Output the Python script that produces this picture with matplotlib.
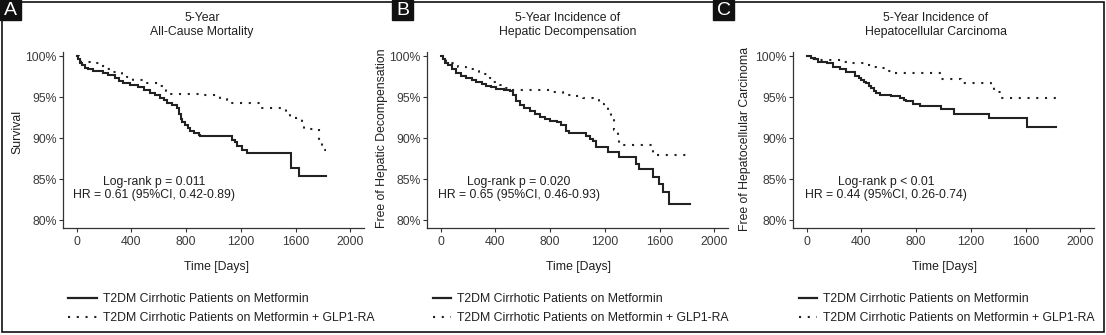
"""Kaplan-Meier curves: metformin vs metformin + GLP1-RA in T2DM cirrhosis."""

import matplotlib
matplotlib.use("Agg")
import matplotlib.pyplot as plt
from matplotlib.lines import Line2D
from matplotlib.patches import Rectangle

plt.rcParams["font.family"] = ["Liberation Sans", "DejaVu Sans"]

# --- Data (day, survival %) ---
END_DAY = 1825

a_met_t = [0, 10, 25, 40, 60, 83, 120, 193, 230, 279, 310, 340, 390, 451, 490,
           537, 575, 610, 640, 659, 700, 733, 750, 760, 770, 790, 810, 831,
           860, 892, 904, 1137, 1160, 1174, 1210, 1248, 1566, 1627]
a_met_v = [100, 99.6, 99.2, 98.9, 98.6, 98.4, 98.2, 98.0, 97.7, 97.3, 97.0,
           96.7, 96.5, 96.2, 95.9, 95.5, 95.2, 94.9, 94.6, 94.3, 94.0, 93.7,
           93.0, 92.3, 92.0, 91.6, 91.2, 90.9, 90.6, 90.4, 90.2, 89.8, 89.5,
           89.0, 88.5, 88.2, 86.4, 85.4]
a_glp_t = [0, 15, 35, 100, 160, 220, 265, 300, 329, 370, 413, 512, 600, 650,
           680, 900, 1050, 1100, 1340, 1530, 1560, 1650, 1665, 1770, 1790]
a_glp_v = [100, 99.6, 99.3, 99.1, 98.8, 98.4, 98.1, 97.9, 97.7, 97.4, 97.1,
           96.7, 96.3, 95.8, 95.4, 95.2, 94.8, 94.3, 93.7, 93.0, 92.4, 91.9,
           91.1, 89.8, 88.6]

b_met_t = [0, 15, 35, 53, 80, 115, 150, 188, 230, 261, 300, 334, 370, 407, 460,
           504, 530, 552, 577, 610, 650, 690, 723, 760, 796, 850, 881, 917, 941,
           1063, 1090, 1112, 1136, 1221, 1306, 1428, 1453, 1550, 1599, 1623,
           1672]
b_met_v = [100, 99.6, 99.2, 98.9, 98.4, 97.9, 97.6, 97.3, 97.1, 96.9, 96.6,
           96.3, 96.2, 96.0, 95.9, 95.8, 95.3, 94.5, 94.0, 93.7, 93.3, 93.0,
           92.6, 92.3, 92.1, 92.0, 91.6, 90.9, 90.6, 90.2, 89.9, 89.6, 88.9,
           88.3, 87.7, 86.9, 86.2, 85.2, 84.4, 83.4, 82.0]
b_glp_t = [0, 20, 42, 80, 127, 188, 236, 280, 309, 358, 382, 430, 455, 480,
           516, 800, 893, 966, 1039, 1112, 1160, 1197, 1221, 1246, 1270, 1294,
           1306, 1550]
b_glp_v = [100, 99.7, 99.4, 99.1, 98.7, 98.4, 98.2, 98.0, 97.8, 97.3, 96.8,
           96.5, 96.3, 96.1, 95.9, 95.6, 95.3, 95.1, 94.9, 94.6, 94.2, 93.9,
           93.3, 92.2, 91.0, 89.8, 89.1, 88.0]

c_met_t = [0, 30, 60, 85, 145, 194, 243, 291, 351, 380, 400, 420, 436, 455,
           473, 490, 509, 533, 618, 679, 710, 727, 776, 830, 982, 1079, 1334,
           1612]
c_met_v = [100, 99.8, 99.6, 99.3, 99.1, 98.7, 98.4, 98.1, 97.6, 97.3, 97.1,
           96.9, 96.7, 96.4, 96.1, 95.8, 95.5, 95.3, 95.1, 94.9, 94.7, 94.5,
           94.1, 93.9, 93.5, 93.0, 92.4, 91.3]
c_glp_t = [0, 40, 73, 267, 327, 376, 424, 485, 533, 594, 620, 982, 1130, 1345,
           1370, 1418]
c_glp_v = [100, 99.7, 99.5, 99.3, 99.2, 99.1, 98.9, 98.7, 98.5, 98.2, 97.9,
           97.2, 96.7, 96.2, 95.6, 94.9]

titles = ["5-Year\nAll-Cause Mortality",
          "5-Year Incidence of\nHepatic Decompensation",
          "5-Year Incidence of\nHepatocellular Carcinoma"]
ylabels = ["Survival", "Free of Hepatic Decompensation",
           "Free of Hepatocellular Carcinoma"]
pvals = ["Log-rank p = 0.011", "Log-rank p = 0.020", "Log-rank p < 0.01"]
hrs = ["HR = 0.61 (95%CI, 0.42-0.89)", "HR = 0.65 (95%CI, 0.46-0.93)",
       "HR = 0.44 (95%CI, 0.26-0.74)"]
panel_letters = ["A", "B", "C"]
series_labels = ["T2DM Cirrhotic Patients on Metformin",
                 "T2DM Cirrhotic Patients on Metformin + GLP1-RA"]
xticks = [0, 400, 800, 1200, 1600, 2000]
yticks = [80, 85, 90, 95, 100]

curves = [(a_met_t, a_met_v, a_glp_t, a_glp_v),
          (b_met_t, b_met_v, b_glp_t, b_glp_v),
          (c_met_t, c_met_v, c_glp_t, c_glp_v)]

# --- Layout (pixel positions in a 1106x335 canvas) ---
W, H = 1106, 335
FS = 8.8
INK = "#222222"
AX_COL = "#333333"
TXT = "#1f1f1f"

ax_left = [63, 427, 793]
ax_w, ax_top, ax_bot = 301, 52, 227.5
title_x = [202, 568, 936]
xlabel_x = [217, 578, 944]
ylabel_x = [17, 382, 745]
ylabel_y = [132, 138, 139]
letter_x = [0, 392, 713]
legend_x = [68, 433, 799]
handle_len = [2.4, 1.5, 1.5]
annot_x = [567, 569, 582]


def kmstep(ax, t, v, **kw):
    ax.step(list(t) + [END_DAY], list(v) + [v[-1]], where="post", **kw)


fig = plt.figure(figsize=(W / 100, H / 100), dpi=100)

for i in range(3):
    ax = fig.add_axes([ax_left[i] / W, 1 - ax_bot / H, ax_w / W,
                       (ax_bot - ax_top) / H])
    mt, mv, gt, gv = curves[i]
    kmstep(ax, mt, mv, color=INK, lw=1.5, solid_joinstyle="miter")
    kmstep(ax, gt, gv, color=INK, lw=1.5, linestyle=(0, (1, 3.2)))

    ax.set_xlim(-100, 2100)
    ax.set_ylim(79.1, 100.5)
    ax.set_xticks(xticks)
    ax.set_yticks(yticks)
    ax.set_yticklabels([f"{y}%" for y in yticks])
    for s in ["top", "right"]:
        ax.spines[s].set_visible(False)
    for s in ["left", "bottom"]:
        ax.spines[s].set_color(AX_COL)
        ax.spines[s].set_linewidth(0.9)
    ax.tick_params(axis="both", colors=AX_COL, labelcolor="#3a3a3a",
                   labelsize=FS, length=3, width=0.8)
    ax.tick_params(axis="x", pad=3)
    ax.tick_params(axis="y", pad=1.5)

    ax.text(annot_x[i], 84.7, pvals[i], ha="center", va="center",
            fontsize=FS, color=TXT)
    ax.text(annot_x[i], 83.1, hrs[i], ha="center", va="center",
            fontsize=FS, color=TXT)

    fig.text(title_x[i] / W, 1 - 25 / H, titles[i], ha="center",
             va="center", fontsize=FS, color=TXT, linespacing=1.25)
    fig.text(xlabel_x[i] / W, 1 - 267 / H, "Time [Days]", ha="center",
             va="center", fontsize=FS, color=TXT)
    fig.text(ylabel_x[i] / W, 1 - ylabel_y[i] / H, ylabels[i], ha="center",
             va="center", rotation=90, fontsize=FS, color=TXT)

    # legend under each panel
    handles = [Line2D([], [], color=INK, lw=1.6),
               Line2D([], [], color=INK, lw=1.5, linestyle=(0, (1, 3.2)))]
    fig.legend(handles, series_labels, loc="upper left",
               bbox_to_anchor=(legend_x[i] / W, 1 - 293 / H),
               frameon=False, fontsize=FS, handlelength=handle_len[i],
               handletextpad=0.45, labelspacing=0.6, borderpad=0,
               borderaxespad=0, labelcolor=TXT)

    # panel letter box
    fig.add_artist(Rectangle((letter_x[i] / W, 1 - 20 / H), 21 / W, 20 / H,
                             transform=fig.transFigure, color="#111111",
                             zorder=5))
    fig.text((letter_x[i] + 10.5) / W, 1 - 10.5 / H, panel_letters[i],
             ha="center", va="center", fontsize=14, color="white", zorder=6)

# outer frame
fig.add_artist(Rectangle((1.7 / W, 2.7 / H), 1101.8 / W, 330.6 / H,
                         transform=fig.transFigure, fill=False,
                         edgecolor="#111111", lw=1.2))

fig.savefig("out.png", dpi=100)
